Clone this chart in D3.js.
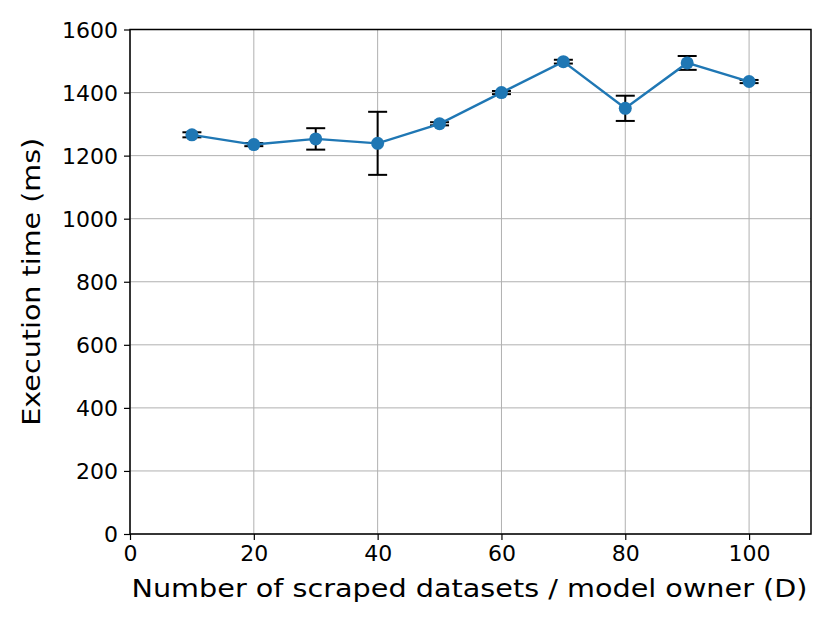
<!DOCTYPE html>
<html>
<head>
<meta charset="utf-8">
<script src="https://cdn.jsdelivr.net/npm/d3@7"></script>
<style>
  html, body { margin: 0; padding: 0; background: #fff; }
  text { font-family: "DejaVu Sans", sans-serif; fill: #000; }
</style>
</head>
<body>
<svg id="chart" width="830" height="623"></svg>
<script>
const xValues = [10, 20, 30, 40, 50, 60, 70, 80, 90, 100];
const yValues = [1266, 1235, 1253, 1239, 1301, 1400, 1498, 1350, 1494, 1435];
const yErrors = [8, 5, 34, 100, 5, 5, 6, 40, 22, 5];
const xTicks = [0, 20, 40, 60, 80, 100];
const yTicks = [0, 200, 400, 600, 800, 1000, 1200, 1400, 1600];
const xLabel = "Number of scraped datasets / model owner (D)";
const yLabel = "Execution time (ms)";

(function () {
const svg = d3.select("#chart");
const pL = 130, pR = 811, pT = 29.5, pB = 534;
const x = d3.scaleLinear().domain([0, 110]).range([pL, pR]);
const y = d3.scaleLinear().domain([0, 1600]).range([pB, pT]);

// grid
svg.append("g").selectAll("line").data(xTicks).join("line")
  .attr("x1", d => x(d)).attr("x2", d => x(d)).attr("y1", pT).attr("y2", pB)
  .attr("stroke", "#b0b0b0").attr("stroke-width", 1);
svg.append("g").selectAll("line").data(yTicks).join("line")
  .attr("y1", d => y(d)).attr("y2", d => y(d)).attr("x1", pL).attr("x2", pR)
  .attr("stroke", "#b0b0b0").attr("stroke-width", 1);

// axes
const fmt = d3.format("d");
const xAxis = svg.append("g").attr("transform", `translate(0,${pB})`)
  .call(d3.axisBottom(x).tickValues(xTicks).tickFormat(fmt).tickSize(6).tickPadding(5).tickSizeOuter(0));
const yAxis = svg.append("g").attr("transform", `translate(${pL},0)`)
  .call(d3.axisLeft(y).tickValues(yTicks).tickFormat(fmt).tickSize(6).tickPadding(6).tickSizeOuter(0));
[xAxis, yAxis].forEach(g => {
  g.select(".domain").remove();
  g.selectAll("line").attr("stroke", "#000").attr("stroke-width", 1.2);
  g.selectAll("text").attr("font-family", "DejaVu Sans").attr("fill", "#000");
});
xAxis.selectAll("text").attr("font-size", 22);
yAxis.selectAll("text").attr("font-size", 22).attr("dy", "0.36em");

// frame
svg.append("rect").attr("x", pL).attr("y", pT)
  .attr("width", pR - pL).attr("height", pB - pT)
  .attr("fill", "none").attr("stroke", "#000").attr("stroke-width", 1.5);

// error bars
const eb = svg.append("g").selectAll("g").data(xValues.map((d, i) => i)).join("g");
const cap = 9.5;
eb.append("line")
  .attr("x1", i => x(xValues[i])).attr("x2", i => x(xValues[i]))
  .attr("y1", i => y(yValues[i] - yErrors[i])).attr("y2", i => y(yValues[i] + yErrors[i]))
  .attr("stroke", "#000").attr("stroke-width", 2);
eb.append("line")
  .attr("x1", i => x(xValues[i]) - cap).attr("x2", i => x(xValues[i]) + cap)
  .attr("y1", i => y(yValues[i] + yErrors[i])).attr("y2", i => y(yValues[i] + yErrors[i]))
  .attr("stroke", "#000").attr("stroke-width", 2);
eb.append("line")
  .attr("x1", i => x(xValues[i]) - cap).attr("x2", i => x(xValues[i]) + cap)
  .attr("y1", i => y(yValues[i] - yErrors[i])).attr("y2", i => y(yValues[i] - yErrors[i]))
  .attr("stroke", "#000").attr("stroke-width", 2);

// line
const line = d3.line().x((d, i) => x(xValues[i])).y(d => y(d));
svg.append("path").datum(yValues).attr("d", line)
  .attr("fill", "none").attr("stroke", "#1f77b4").attr("stroke-width", 2.4);

// markers
svg.append("g").selectAll("circle").data(yValues).join("circle")
  .attr("cx", (d, i) => x(xValues[i])).attr("cy", d => y(d)).attr("r", 6.5)
  .attr("fill", "#1f77b4");

// labels
svg.append("text").attr("x", (pL + pR) / 2 - 1).attr("y", 597)
  .attr("text-anchor", "middle").attr("font-size", 24)
  .attr("textLength", 676).attr("lengthAdjust", "spacingAndGlyphs")
  .text(xLabel);
svg.append("text")
  .attr("transform", `translate(40,${(pT + pB) / 2}) rotate(-90)`)
  .attr("text-anchor", "middle").attr("font-size", 25)
  .attr("textLength", 288).attr("lengthAdjust", "spacingAndGlyphs")
  .text(yLabel);
})();
</script>
</body>
</html>
